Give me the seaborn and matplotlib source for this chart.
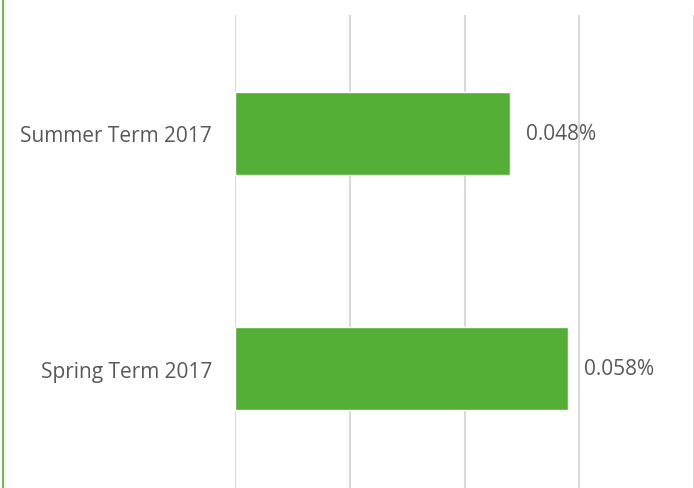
import matplotlib
matplotlib.use("Agg")
import matplotlib.pyplot as plt
from matplotlib.lines import Line2D
import seaborn as sns
import pandas as pd

# data
terms = ["Summer Term 2017", "Spring Term 2017"]
rates = [0.048, 0.058]
rate_labels = ["0.048%", "0.058%"]

df = pd.DataFrame({"term": terms, "rate": rates})

sns.set_style("white")
plt.rcParams["font.family"] = ["Open Sans", "DejaVu Sans"]

fig = plt.figure(figsize=(6.94, 4.89), dpi=100)
ax = fig.add_axes([235 / 694, 0, 1 - 235 / 694, 1 - 16 / 489])

sns.barplot(data=df, x="rate", y="term", orient="h", color="#52AE34",
            saturation=1, width=0.353, ax=ax)

ax.set_xlim(0, 0.0799)
ax.set_ylim(1.508, -0.504)
ax.set_xticks([0, 0.02, 0.04, 0.06, 0.08])
ax.xaxis.grid(True, color="#D9D9D9", linewidth=1.5)
ax.set_axisbelow(True)
ax.tick_params(axis="x", length=0, labelbottom=False)
ax.tick_params(axis="y", length=0, pad=16.5, labelsize=15, labelcolor="#595959")
for s in ax.spines.values():
    s.set_visible(False)
ax.set_xlabel("")
ax.set_ylabel("")

for i, (v, lab) in enumerate(zip(rates, rate_labels)):
    ax.annotate(lab, (v, i), xytext=(16, 0), textcoords="offset pixels",
                va="center", ha="left", fontsize=15, color="#595959")

# green frame edge on the left of the picture
fig.add_artist(Line2D([3 / 694, 3 / 694], [0, 1], color="#6CC04A",
                      linewidth=1.5, transform=fig.transFigure))

fig.savefig("out.png", dpi=100)
